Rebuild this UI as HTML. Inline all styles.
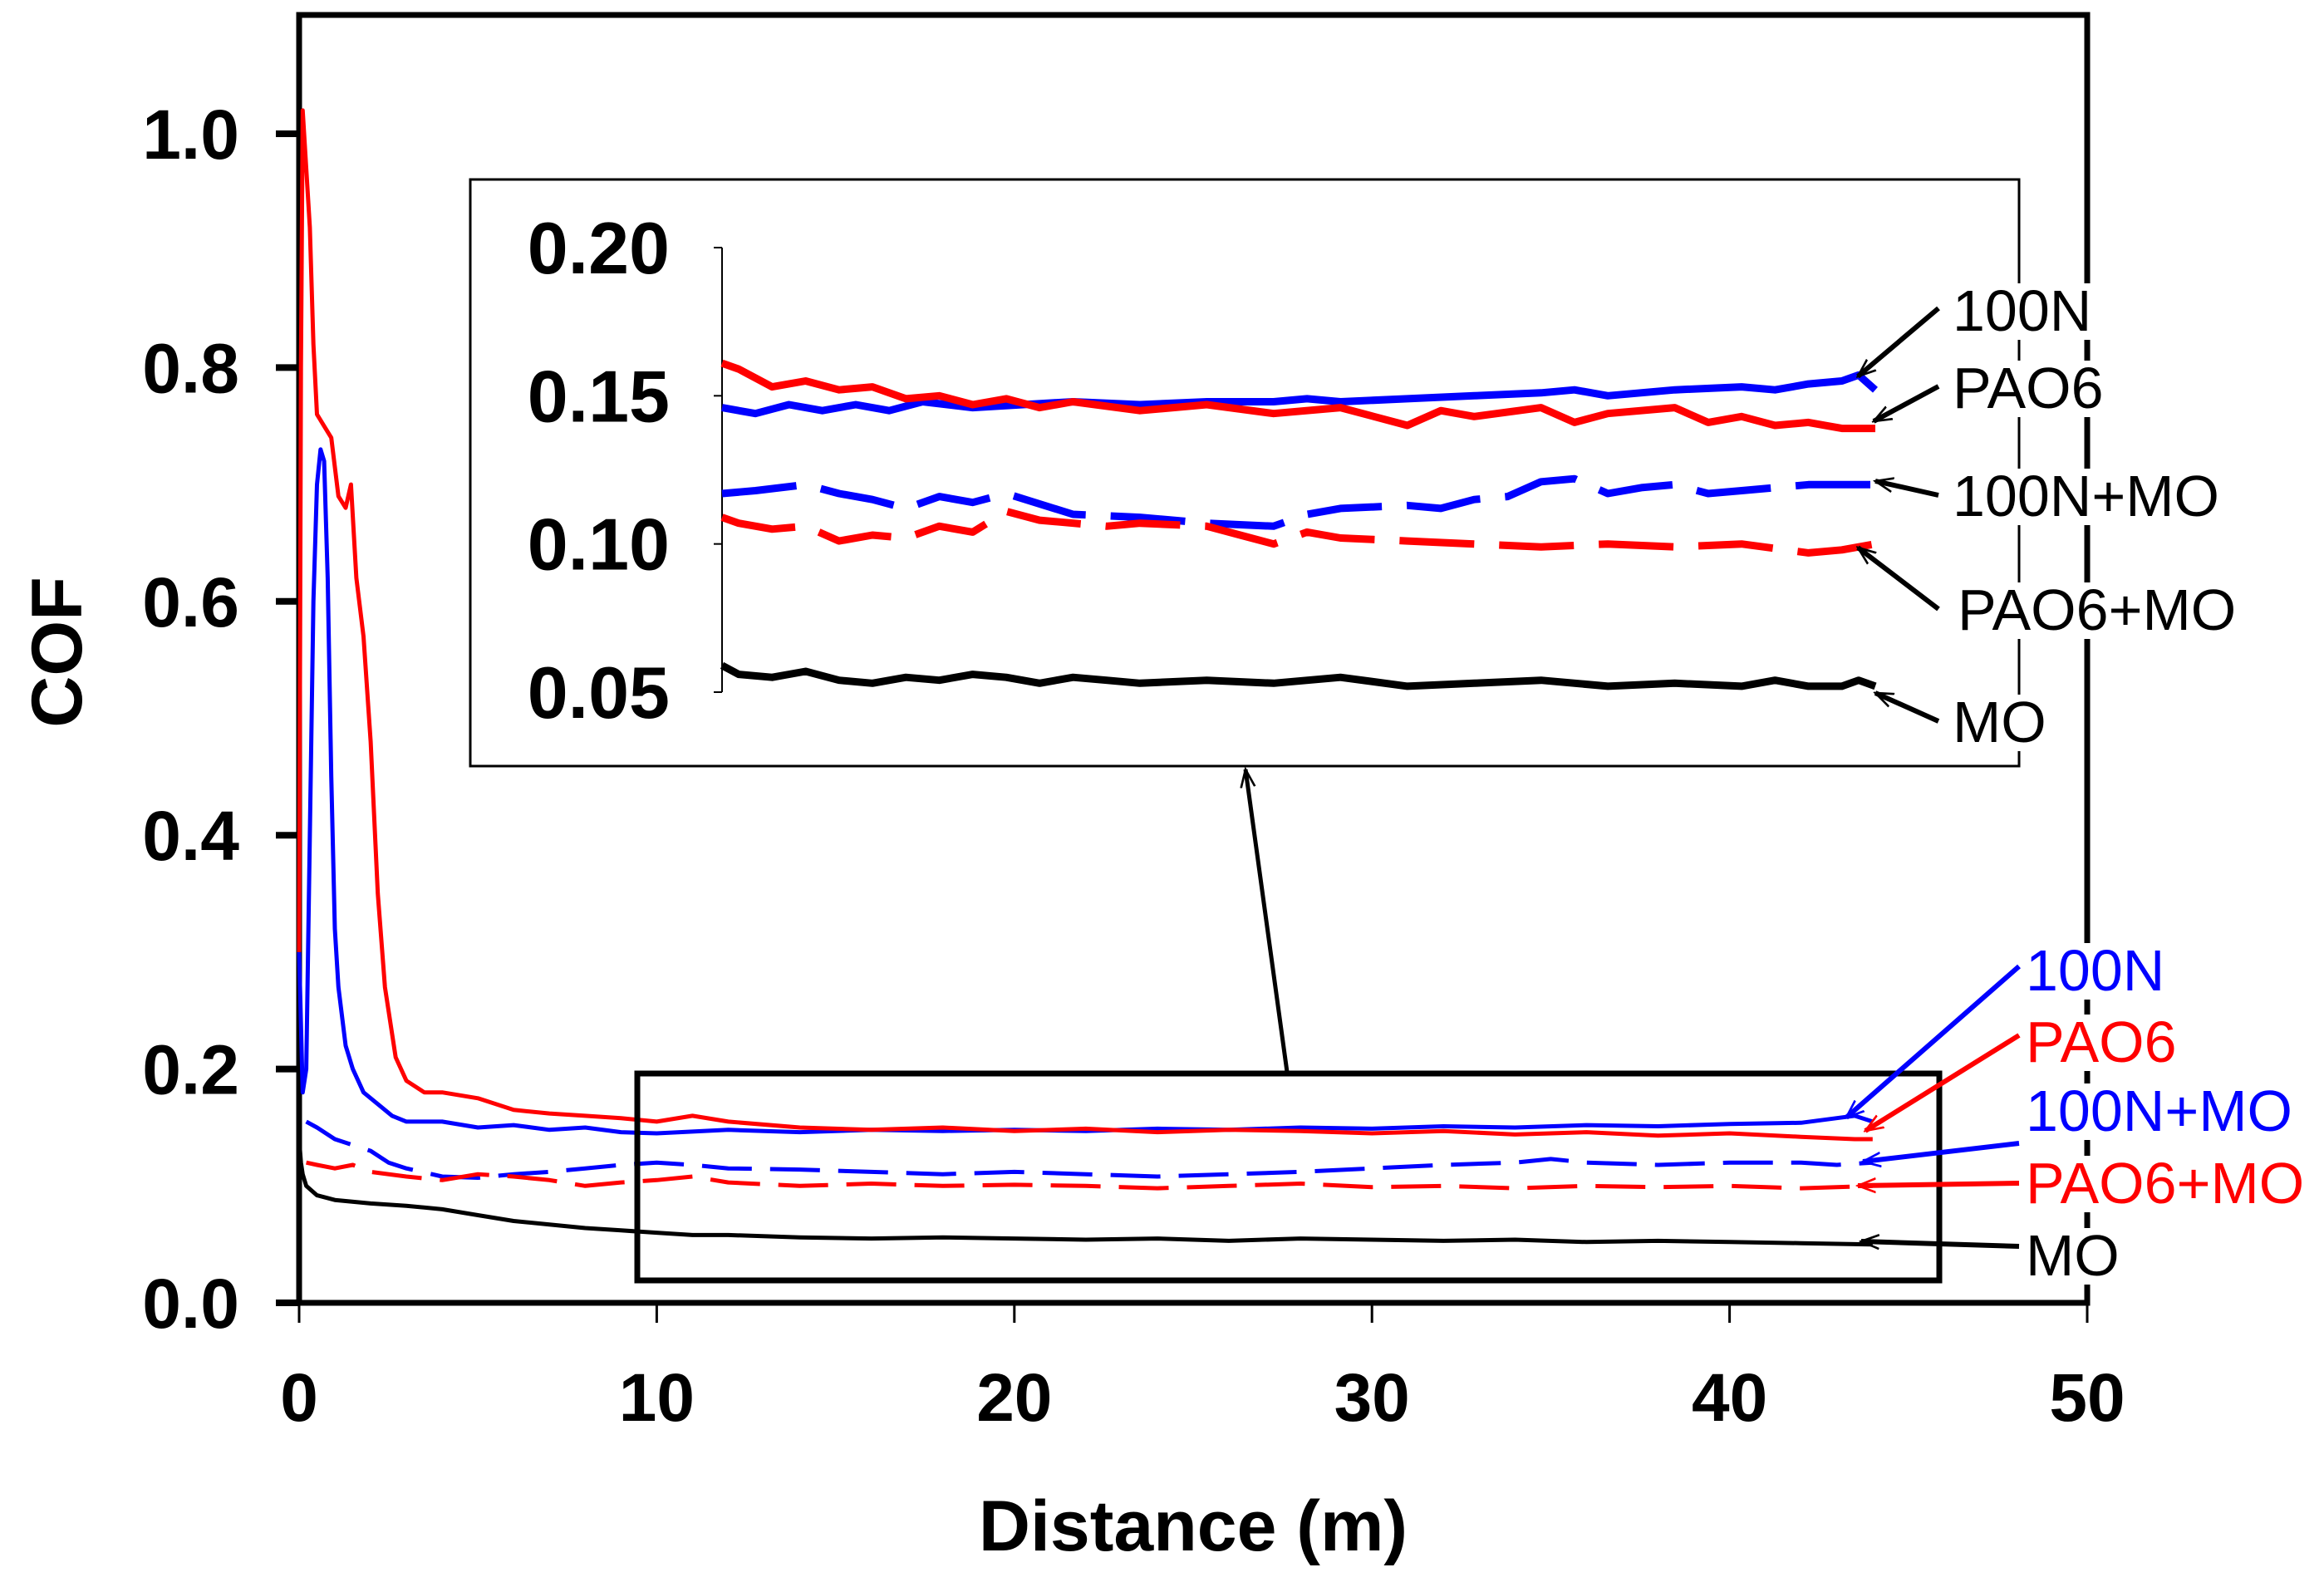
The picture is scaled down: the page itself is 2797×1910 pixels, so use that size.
<!DOCTYPE html>
<html><head><meta charset="utf-8"><style>
html,body{margin:0;padding:0;background:#fff;}
svg{display:block;font-family:"Liberation Sans",Arial,sans-serif;}
</style></head><body>
<svg id="chart" width="2797" height="1910" viewBox="0 0 2797 1910" xmlns="http://www.w3.org/2000/svg">
<defs>
<marker id="ah" viewBox="0 0 10 10" refX="9" refY="5" markerWidth="24" markerHeight="24" orient="auto" markerUnits="userSpaceOnUse"><path d="M0,1.5 L9,5 L0,8.5" fill="none" stroke="context-stroke" stroke-width="1.1"/></marker>
</defs>
<g id="main"></g>
<g id="inset"></g>
<g id="labels"></g>
</svg>
<script>
// ===== main chart data =====
const seriesNames = ["100N","PAO6","100N+MO","PAO6+MO","MO"];
const xTicks = [0,10,20,30,40,50];
const yTickLabels = ["0.0","0.2","0.4","0.6","0.8","1.0"];
const yTicks = [0,0.2,0.4,0.6,0.8,1.0];
const pao6X = [0,0.05,0.1,0.2,0.3,0.4,0.5,0.7,0.9,1.1,1.3,1.45,1.6,1.8,2.0,2.2,2.4,2.7,3.0,3.5,4,5,6,7,8,9,10,11,12,14,16,18,20,22,24,26,28,30,32,34,36,38,40,42,43.5,44];
const pao6Y = [0.3,0.8,1.02,0.97,0.92,0.82,0.76,0.75,0.74,0.69,0.68,0.70,0.62,0.57,0.48,0.35,0.27,0.21,0.19,0.18,0.18,0.175,0.165,0.162,0.16,0.158,0.155,0.16,0.155,0.15,0.148,0.15,0.147,0.149,0.146,0.148,0.147,0.145,0.147,0.144,0.146,0.143,0.145,0.142,0.14,0.14];
const n100X = [0,0.1,0.2,0.3,0.4,0.5,0.6,0.7,0.8,0.9,1.0,1.1,1.3,1.5,1.8,2.2,2.6,3.0,4,5,6,7,8,9,10,12,14,16,18,20,22,24,26,28,30,32,34,36,38,40,42,43,43.5,44];
const n100Y = [0.3,0.18,0.2,0.4,0.6,0.7,0.73,0.72,0.62,0.45,0.32,0.27,0.22,0.2,0.18,0.17,0.16,0.155,0.155,0.15,0.152,0.148,0.15,0.146,0.145,0.148,0.146,0.148,0.147,0.148,0.147,0.149,0.148,0.15,0.149,0.151,0.15,0.152,0.151,0.153,0.154,0.158,0.16,0.155];
const n100moX = [0.2,0.5,1,1.5,2,2.5,3,4,5,6,7,8,9,10,11,12,14,16,18,20,22,24,26,28,30,32,34,35,36,38,40,42,43,44];
const n100moY = [0.155,0.15,0.14,0.135,0.13,0.12,0.115,0.108,0.107,0.11,0.112,0.115,0.118,0.12,0.118,0.115,0.114,0.112,0.11,0.112,0.11,0.108,0.11,0.112,0.115,0.118,0.12,0.123,0.12,0.118,0.12,0.12,0.118,0.12];
const pao6moX = [0.2,0.5,1,1.5,2,3,4,5,6,7,8,9,10,11,12,14,16,18,20,22,24,26,28,30,32,34,36,38,40,42,44];
const pao6moY = [0.12,0.118,0.115,0.118,0.112,0.108,0.105,0.11,0.108,0.105,0.1,0.103,0.105,0.108,0.103,0.1,0.102,0.1,0.101,0.1,0.098,0.1,0.102,0.099,0.1,0.098,0.1,0.099,0.1,0.098,0.1];
const moX = [0,0.05,0.1,0.2,0.5,1,2,3,4,5,6,7,8,9,10,11,12,14,16,18,20,22,24,26,28,30,32,34,36,38,40,42,44];
const moY = [0.14,0.12,0.11,0.1,0.092,0.088,0.085,0.083,0.08,0.075,0.07,0.067,0.064,0.062,0.06,0.058,0.058,0.056,0.055,0.056,0.055,0.054,0.055,0.053,0.055,0.054,0.053,0.054,0.052,0.053,0.052,0.051,0.05];
// ===== inset data =====
const insetYTicks = [0.05,0.10,0.15,0.20];
const insetYTickLabels = ["0.05","0.10","0.15","0.20"];
const in100X = [9.5,10.5,11.5,12.5,13.5,14.5,15.5,17,18.5,20,22,24,26,27,28,30,32,34,35,36,38,40,41,42,43,43.5,44];
const in100Y = [0.146,0.144,0.147,0.145,0.147,0.145,0.148,0.146,0.147,0.148,0.147,0.148,0.148,0.149,0.148,0.149,0.15,0.151,0.152,0.15,0.152,0.153,0.152,0.154,0.155,0.157,0.152];
const inPao6X = [9.5,10,11,12,13,14,15,16,17,18,19,20,22,24,26,28,29,30,31,32,34,35,36,38,39,40,41,42,43,44];
const inPao6Y = [0.161,0.159,0.153,0.155,0.152,0.153,0.149,0.15,0.147,0.149,0.146,0.148,0.145,0.147,0.144,0.146,0.143,0.14,0.145,0.143,0.146,0.141,0.144,0.146,0.141,0.143,0.14,0.141,0.139,0.139];
const in100moX = [9.5,10.5,12,13,14,15,16,17,18,20,22,24,26,27,28,30,31,32,33,34,35,36,37,38,39,40,41,42,43,44];
const in100moY = [0.117,0.118,0.12,0.117,0.115,0.112,0.116,0.114,0.117,0.11,0.109,0.107,0.106,0.11,0.112,0.113,0.112,0.115,0.116,0.121,0.122,0.117,0.119,0.12,0.117,0.118,0.119,0.12,0.12,0.12];
const inPao6moX = [9.5,10,11,12,13,14,15,16,17,18,19,20,21,22,24,25,26,27,28,30,32,34,36,38,40,42,43,44];
const inPao6moY = [0.109,0.107,0.105,0.106,0.101,0.103,0.102,0.106,0.104,0.111,0.108,0.107,0.106,0.107,0.106,0.103,0.1,0.104,0.102,0.101,0.1,0.099,0.1,0.099,0.1,0.097,0.098,0.1];
const inMoX = [9.5,10,11,12,13,14,15,16,17,18,19,20,21,22,24,26,28,30,32,34,36,38,40,41,42,43,43.5,44];
const inMoY = [0.059,0.056,0.055,0.057,0.054,0.053,0.055,0.054,0.056,0.055,0.053,0.055,0.054,0.053,0.054,0.053,0.055,0.052,0.053,0.054,0.052,0.053,0.052,0.054,0.052,0.052,0.054,0.052];

const NS="http://www.w3.org/2000/svg";
const mainG=document.getElementById('main');
const insetG=document.getElementById('inset');
const labG=document.getElementById('labels');
function mk(tag,parent,attrs){const e=document.createElementNS(NS,tag);for(const k in attrs)e.setAttribute(k,attrs[k]);parent.appendChild(e);return e;}
const X0=360,X1=2512,YB=1568,YT=161;
function sx(v){return X0+(v-0)/(50-0)*(X1-X0);}
function sy(v){return YB-(v-0)/(1.0-0)*(YB-YT);}
const IX0=869,IX1=2257,IYT=298,IYB=833;
function isx(v){return IX0+(v-9.5)/(44-9.5)*(IX1-IX0);}
function isy(v){return IYB-(v-0.05)/(0.20-0.05)*(IYB-IYT);}
function pts(xs,ys,fx,fy){return xs.map((x,i)=>fx(x).toFixed(1)+','+fy(ys[i]).toFixed(1)).join(' ');}

let e=mk('rect',mainG,{x:X0,y:18,width:X1-X0,height:YB-18,fill:'none',stroke:'#000','stroke-width':7});


yTicks.forEach((v,i)=>{
  let t=mk('line',mainG,{x1:X0-28,x2:X0,y1:sy(v),y2:sy(v),stroke:'#000','stroke-width':8});
  
  
  let l=mk('text',mainG,{x:288,y:sy(v)+30,'text-anchor':'end','font-size':84,'font-weight':'bold',fill:'#000'});
  l.textContent=yTickLabels[i];
  
  
});
xTicks.forEach(v=>{
  let t=mk('line',mainG,{x1:sx(v),x2:sx(v),y1:YB,y2:YB+24,stroke:'#000','stroke-width':3});
  
  
  let l=mk('text',mainG,{x:sx(v),y:1710,'text-anchor':'middle','font-size':82,'font-weight':'bold',fill:'#000'});
  l.textContent=String(v);
  
  
});
e=mk('text',mainG,{x:1436,y:1866,'text-anchor':'middle','font-size':86,'font-weight':'bold',fill:'#000'});
e.textContent='Distance (m)';


e=mk('text',mainG,{x:0,y:0,'text-anchor':'middle','font-size':86,'font-weight':'bold',fill:'#000',transform:'translate(98,785) rotate(-90)'});
e.textContent='COF';



const mainSeries=[[n100X,n100Y,'#0000ff',null,'line-100n'],[pao6X,pao6Y,'#ff0000',null,'line-pao6'],[n100moX,n100moY,'#0000ff','60 22','line-100n-mo'],[pao6moX,pao6moY,'#ff0000','60 22','line-pao6-mo'],[moX,moY,'#000000',null,'line-mo']];
mainSeries.forEach(s=>{
  let p=mk('polyline',mainG,{points:pts(s[0],s[1],sx,sy),fill:'none',stroke:s[2],'stroke-width':5,'stroke-linejoin':'round'});
  if(s[3])p.setAttribute('stroke-dasharray',s[3]);
  
  
});
e=mk('rect',mainG,{x:767,y:1292,width:1567,height:249,fill:'none',stroke:'#000','stroke-width':7});


e=mk('line',mainG,{x1:1549,y1:1290,x2:1499,y2:926,stroke:'#000','stroke-width':5,'marker-end':'url(#ah)'});



e=mk('rect',insetG,{x:566,y:216,width:1864,height:706,fill:'#fff',stroke:'#000','stroke-width':3});


e=mk('line',insetG,{x1:IX0,x2:IX0,y1:IYT,y2:IYB,stroke:'#000','stroke-width':2});


insetYTicks.forEach((v,i)=>{
  let t=mk('line',insetG,{x1:IX0-10,x2:IX0,y1:isy(v),y2:isy(v),stroke:'#000','stroke-width':2});
  
  
  let l=mk('text',insetG,{x:806,y:isy(v)+31,'text-anchor':'end','font-size':88,'font-weight':'bold',fill:'#000'});
  l.textContent=insetYTickLabels[i];
  
  
});
const insetSeries=[[in100X,in100Y,'#0000ff',null,'inset-line-100n'],[inPao6X,inPao6Y,'#ff0000',null,'inset-line-pao6'],[in100moX,in100moY,'#0000ff','90 30','inset-line-100n-mo'],[inPao6moX,inPao6moY,'#ff0000','90 30','inset-line-pao6-mo'],[inMoX,inMoY,'#000000',null,'inset-line-mo']];
insetSeries.forEach(s=>{
  let p=mk('polyline',insetG,{points:pts(s[0],s[1],isx,isy),fill:'none',stroke:s[2],'stroke-width':9,'stroke-linejoin':'round'});
  if(s[3])p.setAttribute('stroke-dasharray',s[3]);
  
  
});

function addLabel(txt,x,y,color,name){
  let t=mk('text',labG,{x:x,y:y,'font-size':70,fill:color});
  t.textContent=txt;
  
  
  const b=t.getBBox();
  let r=mk('rect',labG,{x:b.x-4,y:b.y+6,width:b.width+8,height:b.height-10,fill:'#fff'});
  
  
  labG.insertBefore(r,t);
}
function addArrow(x1,y1,x2,y2,color){
  let a=mk('line',labG,{x1:x1,y1:y1,x2:x2,y2:y2,stroke:color,'stroke-width':6,'marker-end':'url(#ah)','stroke-linecap':'butt'});
  
  
}
const insetLabels=[['100N',398,2350,2333,371,2236,453],['PAO6',491,2350,2333,465,2255,507],['100N+MO',621,2350,2333,596,2257,579],['PAO6+MO',758,2356,2333,733,2236,659],['MO',893,2350,2333,868,2257,834]];
insetLabels.forEach(L=>{
  addLabel(L[0],L[2],L[1],'#000','inset-label-'+L[0].toLowerCase().replace('+','-'));
  addArrow(L[3],L[4],L[5],L[6],'#000');
});
const mainLabels=[['100N','#0000ff',1192,2430,1163,2222,1345],['PAO6','#ff0000',1278,2430,1246,2245,1361],['100N+MO','#0000ff',1361,2430,1376,2242,1398],['PAO6+MO','#ff0000',1448,2430,1424,2236,1427],['MO','#000',1535,2430,1500,2240,1494]];
mainLabels.forEach(L=>{
  addLabel(L[0],L[3]+8,L[2],L[1],'label-'+L[0].toLowerCase().replace('+','-'));
  addArrow(L[3],L[4],L[5],L[6],L[1]);
});
</script>
</body></html>
